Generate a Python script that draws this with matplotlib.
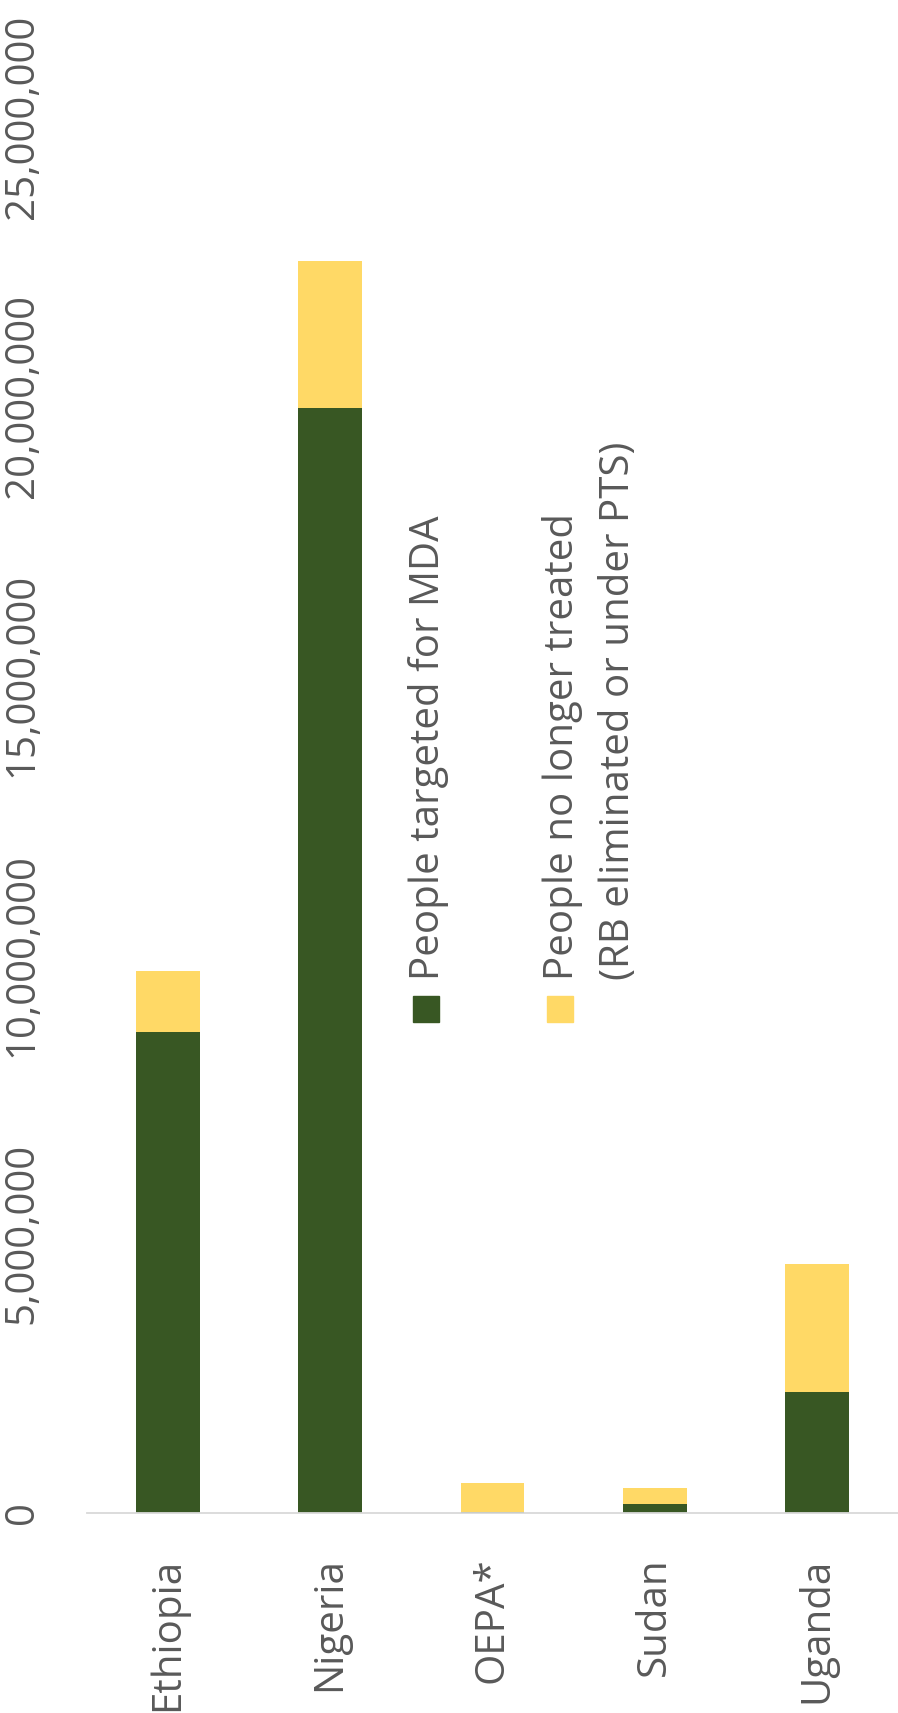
import numpy as np
import matplotlib
matplotlib.use("Agg")
import matplotlib.pyplot as plt
from matplotlib.patches import Rectangle
from matplotlib.ticker import FuncFormatter, MultipleLocator

# people per country
countries = ["Ethiopia", "Nigeria", "OEPA*", "Sudan", "Uganda"]
targeted_mda = [8.62e6, 19.79e6, 0.02e6, 0.17e6, 2.17e6]
no_longer_treated = [1.09e6, 2.63e6, 0.52e6, 0.28e6, 2.29e6]

series_labels = ["People targeted for MDA",
                 "People no longer treated\n(RB eliminated or under PTS)"]

green = "#385723"
yellow = "#FFD966"
grey_text = "#595959"

plt.rcParams["font.family"] = ["Open Sans", "DejaVu Sans"]

W, H = 898, 1713
fig = plt.figure(figsize=(W / 100, H / 100), dpi=100)
ax = fig.add_axes([87 / W, (H - 1513) / H, (W - 87) / W, (1513 - 117) / H])

x = np.arange(len(countries))
bw = 0.394
ax.bar(x, targeted_mda, bw, color=green, zorder=2)
ax.bar(x, no_longer_treated, bw, bottom=targeted_mda, color=yellow, zorder=2)

ax.set_xlim(-0.5, len(countries) - 0.5)
ax.set_ylim(0, 25e6)
ax.yaxis.set_major_locator(MultipleLocator(5e6))
ax.yaxis.set_major_formatter(FuncFormatter(lambda v, p: f"{v:,.0f}"))

ax.set_xticks(x)
ax.set_xticklabels(countries)
ax.tick_params(axis="x", length=0, pad=32, labelsize=29, labelcolor=grey_text,
               labelrotation=90)
ax.tick_params(axis="y", length=0, pad=32, labelsize=29, labelcolor=grey_text,
               labelrotation=90)
for lab in ax.get_yticklabels():
    lab.set_va("center")

for s in ["top", "right", "left"]:
    ax.spines[s].set_visible(False)
ax.spines["bottom"].set_color("#D9D9D9")
ax.spines["bottom"].set_linewidth(1.3)
ax.spines["bottom"].set_zorder(3)


def fx(px):
    return px / W


def fy(py):
    return 1 - py / H


# legend, turned on its side like the rest of the text
for left, col in [(413, green), (547, yellow)]:
    fig.add_artist(Rectangle((fx(left), fy(1022)), 26 / W, 26 / H,
                             transform=fig.transFigure, color=col))

legend_lines = [(439, series_labels[0])]
for i, line in enumerate(series_labels[1].split("\n")):
    legend_lines.append((573 + 56 * i, line))
for base_x, txt in legend_lines:
    fig.text(fx(base_x), fy(980), txt, rotation=90, rotation_mode="anchor",
             ha="left", va="baseline", fontsize=29, color=grey_text)

fig.savefig("out.png", dpi=100, facecolor="white")
